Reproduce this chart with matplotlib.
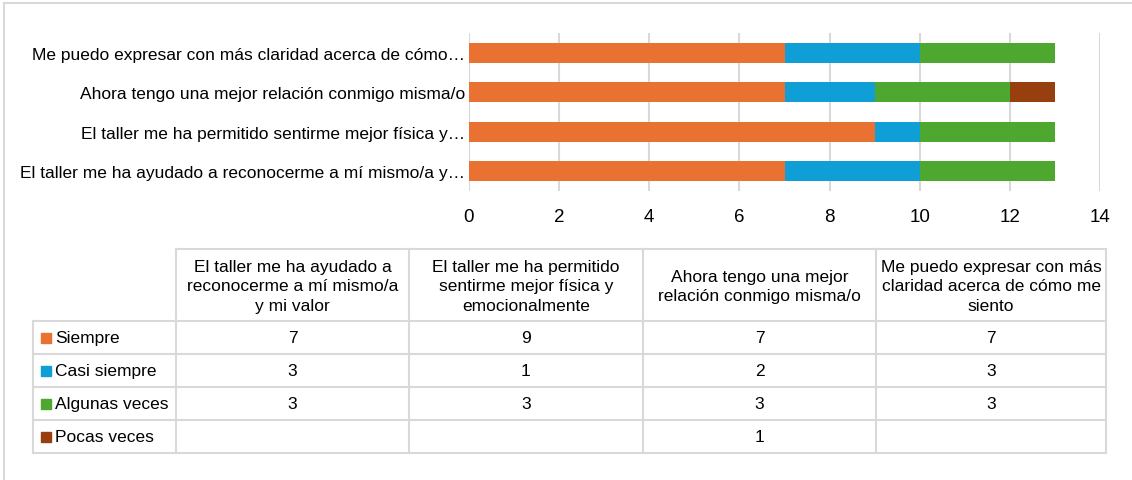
import numpy as np
import matplotlib
matplotlib.use("Agg")
import matplotlib.pyplot as plt

plt.rcParams['font.family'] = ['Liberation Sans', 'DejaVu Sans']

# data
axis_labels = ["El taller me ha ayudado a reconocerme a mí mismo/a y…",
               "El taller me ha permitido sentirme mejor física y…",
               "Ahora tengo una mejor relación conmigo misma/o",
               "Me puedo expresar con más claridad acerca de cómo…"]
col_headers = ["El taller me ha ayudado a\nreconocerme a mí mismo/a\ny mi valor",
               "El taller me ha permitido\nsentirme mejor física y\nemocionalmente",
               "Ahora tengo una mejor\nrelación conmigo misma/o",
               "Me puedo expresar con más\nclaridad acerca de cómo me\nsiento"]
series_names = ["Siempre", "Casi siempre", "Algunas veces", "Pocas veces"]
siempre = [7, 9, 7, 7]
casi_siempre = [3, 1, 2, 3]
algunas_veces = [3, 3, 3, 3]
pocas_veces = [None, None, 1, None]
colors = ["#E97132", "#0F9ED5", "#4EA72E", "#983F10"]
xticks = [0, 2, 4, 6, 8, 10, 12, 14]

series = [siempre, casi_siempre, algunas_veces, pocas_veces]

W, H = 1132, 481
fig = plt.figure(figsize=(W / 100, H / 100), dpi=100)
grid_c = "#d9d9d9"

# bar chart
ax = fig.add_axes([469 / W, 1 - 192 / H, (1100 - 469) / W, (192 - 34) / H])
y = np.arange(len(axis_labels))
left = np.zeros(len(axis_labels))
for vals, name, c in zip(series, series_names, colors):
    v = np.array([0 if x is None else x for x in vals], dtype=float)
    ax.barh(y, v, left=left, height=0.5, color=c, label=name, zorder=3)
    left += v
ax.set_xlim(0, 14)
ax.set_ylim(-0.5, 3.5)
ax.set_xticks(xticks)
ax.set_yticks(y)
ax.set_yticklabels(axis_labels, fontsize=12.5)
ax.tick_params(axis='x', labelsize=13.5, length=0, pad=12)
ax.tick_params(axis='y', length=0, pad=3)
ax.grid(axis='x', color=grid_c, linewidth=1.5, zorder=0)
for s in ax.spines.values():
    s.set_visible(False)

# overlay in pixel coordinates for frame and data table
ov = fig.add_axes([0, 0, 1, 1], zorder=-1)
ov.set_xlim(0, W)
ov.set_ylim(H, 0)
ov.axis('off')
ov.plot([4, W], [4, 4], color=grid_c, lw=1.5)
ov.plot([4, 4], [4, H], color=grid_c, lw=1.5)

col_x = [176, 409, 643, 876, 1106]
row_y = [322, 355, 388, 421, 454]
ov.plot([col_x[0], col_x[-1]], [250, 250], color=grid_c, lw=1.5)
for yy in row_y:
    ov.plot([33, col_x[-1]], [yy, yy], color=grid_c, lw=1.5)
ov.plot([33, 33], [row_y[0], row_y[-1]], color=grid_c, lw=1.5)
for xx in col_x:
    ov.plot([xx, xx], [250, row_y[-1]], color=grid_c, lw=1.5)

for j, head in enumerate(col_headers):
    cx = (col_x[j] + col_x[j + 1]) / 2
    ov.text(cx, 287, head, ha='center', va='center', fontsize=12.5,
            multialignment='center', linespacing=1.4)

for i, (vals, name, c) in enumerate(zip(series, series_names, colors)):
    cy = (row_y[i] + row_y[i + 1]) / 2
    ov.add_patch(plt.Rectangle((41, cy - 5), 10, 10, color=c))
    ov.text(55, cy, name, ha='left', va='center', fontsize=12.5)
    for j, v in enumerate(vals):
        if v is None:
            continue
        cx = (col_x[j] + col_x[j + 1]) / 2
        ov.text(cx, cy, str(v), ha='center', va='center', fontsize=12.5)

fig.savefig("out.png", dpi=100)
